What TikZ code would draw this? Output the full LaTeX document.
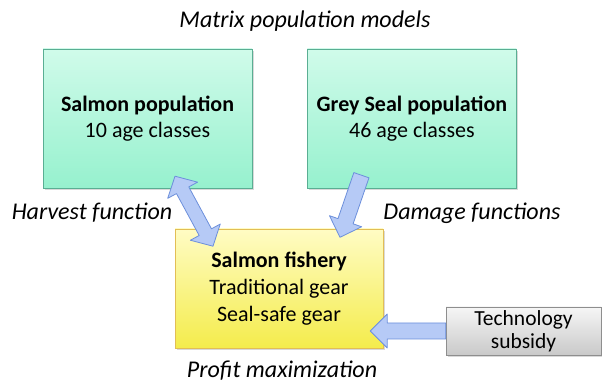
\documentclass[tikz,border=0pt]{standalone}
\usepackage{fontspec}
\setmainfont{Carlito}
\usetikzlibrary{positioning,calc,shadows}
\definecolor{poptop}{HTML}{D0FBEA}
\definecolor{popbottom}{HTML}{96F1CE}
\definecolor{popline}{HTML}{5AAE93}
\definecolor{fishtop}{HTML}{FFFCC4}
\definecolor{fishbottom}{HTML}{F4EC4C}
\definecolor{fishline}{HTML}{E2BE55}
\definecolor{subtop}{HTML}{F6F6F6}
\definecolor{subbottom}{HTML}{C9C9C9}
\definecolor{subline}{HTML}{8E8E8E}
\definecolor{arrowfill}{HTML}{B6CAF6}
\definecolor{arrowline}{HTML}{6C8FDB}
\tikzstyle{popbox} = [rectangle, draw=popline, top color=poptop, bottom color=popbottom,
    minimum width=209pt, minimum height=139pt, align=center, font=\fontsize{22}{26}\selectfont,
    drop shadow={shadow xshift=2pt, shadow yshift=-2pt, opacity=0.3}]
\tikzstyle{fishbox} = [rectangle, draw=fishline, top color=fishtop, bottom color=fishbottom,
    minimum width=208pt, minimum height=119pt, align=center, font=\fontsize{22}{27}\selectfont,
    drop shadow={shadow xshift=2pt, shadow yshift=-2pt, opacity=0.3}]
\tikzstyle{subbox} = [rectangle, draw=subline, top color=subtop, bottom color=subbottom,
    minimum width=155pt, minimum height=48pt, align=center, font=\fontsize{21.5}{23}\selectfont,
    drop shadow={shadow xshift=2pt, shadow yshift=-2pt, opacity=0.3}]
\tikzstyle{remark} = [font=\fontsize{24}{28}\selectfont\itshape]
\tikzstyle{fat} = [draw=arrowline, fill=arrowfill, line width=0.8pt, line join=round]
% block arrows between two points
\newcommand{\fatsingle}[2]{%
  \path[fat] let \p1=(#1), \p2=(#2), \n1={atan2(\y2-\y1,\x2-\x1)}, \n2={veclen(\x2-\x1,\y2-\y1)} in
    [shift={(\p1)}, rotate=\n1]
    (0,8) -- ({\n2-17},8) -- ({\n2-17},17) -- (\n2,0) -- ({\n2-17},-17) -- ({\n2-17},-8) -- (0,-8) -- cycle;}
\newcommand{\fatdouble}[2]{%
  \path[fat] let \p1=(#1), \p2=(#2), \n1={atan2(\y2-\y1,\x2-\x1)}, \n2={veclen(\x2-\x1,\y2-\y1)} in
    [shift={(\p1)}, rotate=\n1]
    (0,0) -- (16,17) -- (16,7) -- ({\n2-16},7) -- ({\n2-16},17) -- (\n2,0)
    -- ({\n2-16},-17) -- ({\n2-16},-7) -- (16,-7) -- (16,-17) -- cycle;}

\begin{document}
\begin{tikzpicture}[x=1pt, y=1pt]
    \useasboundingbox (0,0) rectangle (602,385);
    % Place nodes
    \node [remark] (title) at (305,364) {Matrix population models};
    \node [popbox] (salmon) at (147.5,266.5) {\textbf{Salmon population}\\10 age classes};
    \node [popbox, right=55pt of salmon] (seal) {\textbf{Grey Seal population}\\46 age classes};
    \node [fishbox] (fishery) at (279,96.5) {\textbf{Salmon fishery}\\Traditional gear\\Seal-safe gear};
    \node [subbox] (subsidy) at (523.5,54) {Technology\\subsidy};
    \node [remark] (harvest) at (92,172) {Harvest function};
    \node [remark] (damage) at (472,172) {Damage functions};
    \node [remark] (profit) at (282,14) {Profit maximization};
    % arrows
    \fatdouble{$(salmon.south)+(27.5,12)$}{$(fishery.north)+(-66,-17.5)$}
    \fatsingle{$(seal.south)+(-50.5,13)$}{$(fishery.north)+(61,-8.5)$}
    \fatsingle{subsidy.west}{$(fishery.east)+(-13,-42.5)$}

\end{tikzpicture}
\end{document}
